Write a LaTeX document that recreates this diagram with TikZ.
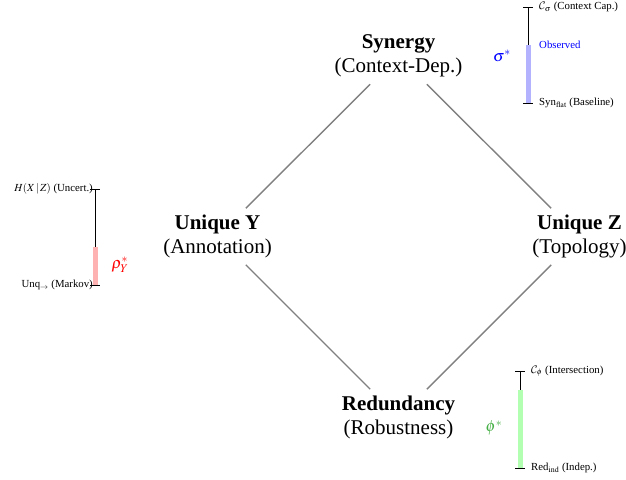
\documentclass[tikz,border=0pt]{standalone}
\usepackage{mathptmx}
\usepackage{fontspec}
\setmainfont{Liberation Serif}
\DeclareMathAlphabet{\mathcal}{OMS}{cmsy}{m}{n}
\begin{document}
\begin{tikzpicture}[x=1pt,y=-1pt,
  lattice/.style={align=center,font=\fontsize{21}{23.5}\selectfont},
  link/.style={draw=gray,line width=1.4pt,shorten <=40pt,shorten >=40pt},
  small/.style={font=\fontsize{10.8}{12}\selectfont,inner sep=1pt},
  greek/.style={font=\fontsize{16}{18}\selectfont,inner sep=0pt},
  gaugeline/.style={line width=0.8pt},
  gaugebar/.style={line width=5pt}
]
\useasboundingbox (0,0) rectangle (626,479);

% lattice of information atoms
\node[lattice] (syn) at (398.5,56)  {\textbf{Synergy}\\(Context-Dep.)};
\node[lattice] (uy)  at (217.5,236.5) {\textbf{Unique Y}\\(Annotation)};
\node[lattice] (uz)  at (579.5,236.5) {\textbf{Unique Z}\\(Topology)};
\node[lattice] (red) at (398.5,417.5) {\textbf{Redundancy}\\(Robustness)};

\draw[link] (syn.center) -- (uy.center);
\draw[link] (syn.center) -- (uz.center);
\draw[link] (uy.center) -- (red.center);
\draw[link] (uz.center) -- (red.center);

% synergy gauge
\coordinate (st) at (528,7);
\coordinate (so) at (528,45);
\coordinate (sb) at (528,103);
\draw[gaugeline] (st) -- (sb);
\draw[gaugeline] ([xshift=-5]st) -- ([xshift=5]st);
\draw[gaugeline] ([xshift=-5]sb) -- ([xshift=5]sb);
\draw[gaugebar,blue!30] (so) -- (sb);
\node[small,anchor=west] (stl) at ([xshift=10]st) {$\mathcal{C}_\sigma$ (Context Cap.)};
\node[small,anchor=west,text=blue] (sol) at ([xshift=10]so) {Observed};
\node[small,anchor=west] (sbl) at ([xshift=10]sb) {Syn$_{\mathrm{flat}}$ (Baseline)};
\node[greek,text=blue] (sig) at (502,56) {$\sigma^*$};

% unique-Y gauge
\coordinate (yt) at (95,189);
\coordinate (yo) at (95,247);
\coordinate (yb) at (95,285);
\draw[gaugeline] (yt) -- (yb);
\draw[gaugeline] ([xshift=-5]yt) -- ([xshift=5]yt);
\draw[gaugeline] ([xshift=-5]yb) -- ([xshift=5]yb);
\draw[gaugebar,red!30] (yo) -- (yb);
\node[small,anchor=east] (ytl) at ([xshift=-1]yt) {$H(X\,|\,Z)$ (Uncert.)};
\node[small,anchor=east] (ybl) at ([xshift=-1]yb) {Unq$_{\rightarrow}$ (Markov)};
\node[greek,text=red] (rho) at (120,265) {$\rho^*_Y$};

% redundancy gauge
\coordinate (rt) at (520,371);
\coordinate (ro) at (520,390);
\coordinate (rb) at (520,468);
\draw[gaugeline] (rt) -- (rb);
\draw[gaugeline] ([xshift=-5]rt) -- ([xshift=5]rt);
\draw[gaugeline] ([xshift=-5]rb) -- ([xshift=5]rb);
\draw[gaugebar,green!30] (ro) -- (rb);
\node[small,anchor=west] (rtl) at ([xshift=10]rt) {$\mathcal{C}_\phi$ (Intersection)};
\node[small,anchor=west] (rbl) at ([xshift=10]rb) {Red$_{\mathrm{ind}}$ (Indep.)};
\node[greek,text={rgb,255:red,70;green,175;blue,70}] (phi) at (494,428) {$\phi^*$};
\end{tikzpicture}
\end{document}
